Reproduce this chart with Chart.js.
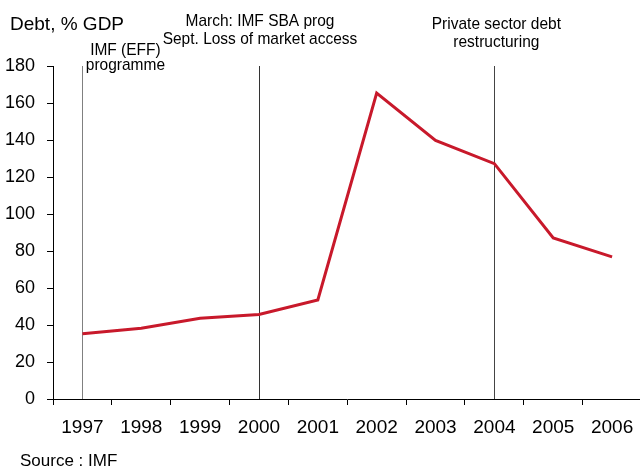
<!DOCTYPE html>
<html>
<head>
  <title>Debt, % GDP</title>
  <meta charset="UTF-8">
  <script src="https://cdn.jsdelivr.net/npm/chart.js"></script>
  <style>
    body { margin: 0; background: #fff; }
    #wrap { width: 640px; height: 468px; overflow: hidden; }
  </style>
</head>
<body>
  <div id="wrap">
    <canvas id="debtChart" width="700" height="468"></canvas>
  </div>

  <script>
    // data
    const years = ['1997', '1998', '1999', '2000', '2001', '2002', '2003', '2004', '2005', '2006'];
    const debt = [35.3, 38.2, 43.6, 45.7, 53.5, 165.4, 139.8, 127.2, 87.0, 76.8];
    const yTicks = [0, 20, 40, 60, 80, 100, 120, 140, 160, 180];

    // events marked with vertical lines
    const eventYears = ['1997', '2000', '2004'];
    const eventLabels = [
      ['IMF (EFF)', 'programme'],
      ['March: IMF SBA prog', 'Sept. Loss of market access'],
      ['Private sector debt', 'restructuring']
    ];

    const FONT = '"Liberation Sans", Arial, Helvetica, sans-serif';

    // vertical event lines + their notes, title and source
    const extras = {
      id: 'extras',
      beforeDatasetsDraw(chart) {
        const ctx = chart.ctx;
        const area = chart.chartArea;
        const x = chart.scales.x;
        const lineColors = ['#808080', '#333333', '#444444'];
        ctx.save();
        eventYears.forEach((yr, i) => {
          const px = Math.round(x.getPixelForValue(years.indexOf(yr))) + 0.5;
          ctx.strokeStyle = lineColors[i];
          ctx.lineWidth = 1;
          ctx.beginPath();
          ctx.moveTo(px, area.top);
          ctx.lineTo(px, area.bottom);
          ctx.stroke();
        });
        ctx.restore();
      },
      afterDraw(chart) {
        const ctx = chart.ctx;
        const x = chart.scales.x;
        ctx.save();
        ctx.fillStyle = '#000';

        // title
        ctx.font = '19px ' + FONT;
        ctx.textAlign = 'left';
        ctx.textBaseline = 'alphabetic';
        ctx.fillText('Debt, % GDP', 10, 30);

        // event notes (dx from the line, baselines of both rows)
        // the original text is a little taller than wide, so stretch it
        const place = [
          { dx: 43, rows: [55, 70] },
          { dx: 1, rows: [26, 44] },
          { dx: 2, rows: [29, 47] }
        ];
        const sy = 1.08;
        ctx.font = '15.5px ' + FONT;
        ctx.textAlign = 'center';
        eventYears.forEach((yr, i) => {
          const px = x.getPixelForValue(years.indexOf(yr)) + place[i].dx;
          eventLabels[i].forEach((txt, j) => {
            ctx.save();
            ctx.translate(px, place[i].rows[j]);
            ctx.scale(1, sy);
            ctx.fillText(txt, 0, 0);
            ctx.restore();
          });
        });

        // source
        ctx.font = '17px ' + FONT;
        ctx.textAlign = 'left';
        ctx.fillText('Source : IMF', 20, 466);
        ctx.restore();
      }
    };

    const ctx = document.getElementById('debtChart').getContext('2d');
    const debtChart = new Chart(ctx, {
      type: 'line',
      data: {
        labels: years,
        datasets: [{
          label: 'Debt, % GDP',
          data: debt,
          borderColor: '#c8192b',
          borderWidth: 3,
          pointRadius: 0,
          tension: 0,
          fill: false
        }]
      },
      options: {
        responsive: false,
        animation: false,
        devicePixelRatio: 1,
        layout: { padding: { top: 66, right: 58.5, left: 0, bottom: 0 } },
        plugins: {
          legend: { display: false },
          tooltip: { enabled: false }
        },
        scales: {
          x: {
            type: 'category',
            offset: true,
            afterFit: s => { s.height = 69; },
            grid: { offset: true, drawOnChartArea: false, tickLength: 6, color: '#000' },
            border: { color: '#000', width: 1 },
            ticks: {
              color: '#000',
              font: { family: FONT, size: 19 },
              padding: 11,
              maxRotation: 0,
              autoSkip: false
            }
          },
          y: {
            min: 0,
            max: 180,
            afterFit: s => { s.width = 53; },
            afterBuildTicks: s => { s.ticks = yTicks.map(v => ({ value: v })); },
            grid: { drawOnChartArea: false, tickLength: 6, color: '#000' },
            border: { color: '#000', width: 1 },
            ticks: {
              color: '#000',
              font: { family: FONT, size: 18 },
              padding: 12
            }
          }
        }
      },
      plugins: [extras]
    });
  </script>
</body>
</html>
